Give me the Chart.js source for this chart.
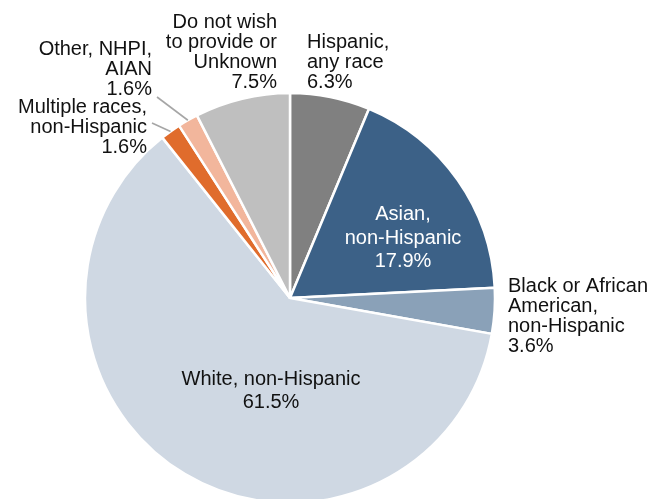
<!DOCTYPE html>
<html>
<head>
<meta charset="utf-8">
<script src="https://cdn.jsdelivr.net/npm/chart.js@4/dist/chart.umd.min.js"></script>
<style>
  html, body { margin: 0; padding: 0; background: #ffffff; }
  #wrap { width: 652px; height: 499px; }
</style>
</head>
<body>
<div id="wrap"><canvas id="grafico" width="652" height="499"></canvas></div>
<script>
// datos
const categorias = [
    'Hispanic, any race',
    'Asian, non-Hispanic',
    'Black or African American, non-Hispanic',
    'White, non-Hispanic',
    'Multiple races, non-Hispanic',
    'Other, NHPI, AIAN',
    'Do not wish to provide or Unknown'
];
const valores = [6.3, 17.9, 3.6, 61.5, 1.6, 1.6, 7.5];
const etiquetas = [
    ['Hispanic,', 'any race', '6.3%'],
    ['Asian,', 'non-Hispanic', '17.9%'],
    ['Black or African', 'American,', 'non-Hispanic', '3.6%'],
    ['White, non-Hispanic', '61.5%'],
    ['Multiple races,', 'non-Hispanic', '1.6%'],
    ['Other, NHPI,', 'AIAN', '1.6%'],
    ['Do not wish', 'to provide or', 'Unknown', '7.5%']
];

const colores = ['#808080', '#3c6187', '#8aa1b8', '#cfd8e3', '#e06c2c', '#f2b69c', '#bfbfbf'];

// donde va cada texto, en px desde el centro (radio 205)
const posTexto = [
    { dx: 17, dy: -250, align: 'left', paso: 20, color: '#111111' },
    { dx: 113, dy: -78, align: 'center', paso: 23.5, color: '#ffffff' },
    { dx: 218, dy: -6, align: 'left', paso: 20, color: '#111111' },
    { dx: -19, dy: 87, align: 'center', paso: 23, color: '#111111' },
    { dx: -143, dy: -185, align: 'right', paso: 20, color: '#111111' },
    { dx: -138, dy: -243, align: 'right', paso: 20, color: '#111111' },
    { dx: -13, dy: -270, align: 'right', paso: 20, color: '#111111' }
];
// lineas guia (inicio junto al texto)
const guias = { 4: { dx: -138, dy: -175 }, 5: { dx: -133, dy: -201 } };

const etiquetasPlugin = {
    id: 'etiquetas',
    afterDraw(chart) {
        const ctx = chart.ctx;
        const arcos = chart.getDatasetMeta(0).data;
        ctx.save();
        arcos.forEach((arco, i) => {
            const cx = arco.x, cy = arco.y, r = arco.outerRadius;
            const k = r / 205;
            // linea guia hasta el borde del sector
            if (guias[i]) {
                const mid = (arco.startAngle + arco.endAngle) / 2;
                ctx.beginPath();
                ctx.strokeStyle = '#a6a6a6';
                ctx.lineWidth = 1.6;
                ctx.moveTo(cx + guias[i].dx * k, cy + guias[i].dy * k);
                ctx.lineTo(cx + Math.cos(mid) * r, cy + Math.sin(mid) * r);
                ctx.stroke();
            }
            const p = posTexto[i];
            ctx.font = '20px "Liberation Sans", Arial, sans-serif';
            ctx.fillStyle = p.color;
            ctx.textAlign = p.align;
            ctx.textBaseline = 'alphabetic';
            etiquetas[i].forEach((linea, j) => {
                ctx.fillText(linea, cx + p.dx * k, cy + p.dy * k + j * p.paso);
            });
        });
        ctx.restore();
    }
};

const canva = document.getElementById('grafico');
window.myChart = new Chart(canva, {
    type: 'pie',
    data: {
        labels: categorias,
        datasets: [{
            data: valores,
            backgroundColor: colores,
            borderColor: '#ffffff',
            borderWidth: 2.5
        }]
    },
    options: {
        responsive: false,
        animation: false,
        radius: 205,
        layout: { padding: { top: 97, bottom: 0, left: 85, right: 157 } },
        plugins: {
            legend: { display: false },
            tooltip: { enabled: false }
        }
    },
    plugins: [etiquetasPlugin]
});
</script>
</body>
</html>
